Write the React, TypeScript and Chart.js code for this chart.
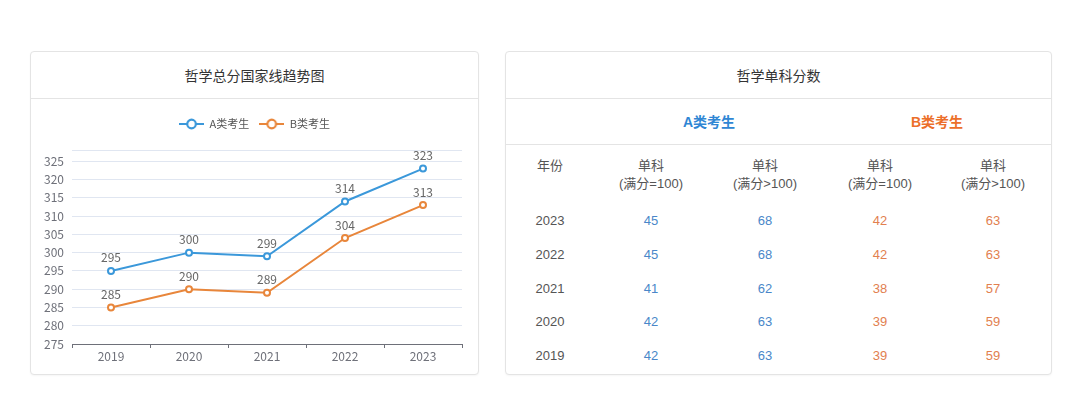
import React, { useEffect, useRef } from 'react';
import { Chart, registerables } from 'chart.js';

Chart.register(...registerables);

// ---- Line chart data ----
const years = ['2019', '2020', '2021', '2022', '2023'];
const seriesA = [295, 300, 299, 314, 323];
const seriesB = [285, 290, 289, 304, 313];
const yTickValues = [275, 280, 285, 290, 295, 300, 305, 310, 315, 320, 325];
const yMin = 275;
const yMax = 328;
const legendA = 'A类考生';
const legendB = 'B类考生';

// ---- Table data ----
const tableYears = ['2023', '2022', '2021', '2020', '2019'];
const aFull100 = [45, 45, 41, 42, 42];
const aOver100 = [68, 68, 62, 63, 63];
const bFull100 = [42, 42, 38, 39, 39];
const bOver100 = [63, 63, 57, 59, 59];
const tableHeaders = ['年份', '单科\n(满分=100)', '单科\n(满分>100)', '单科\n(满分=100)', '单科\n(满分>100)'];

const BLUE = '#3b98da';
const ORANGE = '#e8863b';
const FONT = '"Noto Sans CJK SC", "Noto Sans", sans-serif';

function makeIcon(color: string) {
  const c = document.createElement('canvas');
  c.width = 25;
  c.height = 14;
  const ctx = c.getContext('2d')!;
  ctx.strokeStyle = color;
  ctx.lineWidth = 2;
  ctx.beginPath();
  ctx.moveTo(0, 7);
  ctx.lineTo(25, 7);
  ctx.stroke();
  ctx.beginPath();
  ctx.arc(12.5, 7, 4.3, 0, Math.PI * 2);
  ctx.fillStyle = '#fff';
  ctx.fill();
  ctx.lineWidth = 2.2;
  ctx.stroke();
  return c;
}

const valueLabels = {
  id: 'valueLabels',
  afterDatasetsDraw(chart: any) {
    const ctx = chart.ctx;
    ctx.save();
    ctx.font = `12px ${FONT}`;
    ctx.fillStyle = '#666';
    ctx.textAlign = 'center';
    ctx.textBaseline = 'middle';
    chart.data.datasets.forEach((ds: any, i: number) => {
      const meta = chart.getDatasetMeta(i);
      meta.data.forEach((pt: any, j: number) => {
        ctx.fillText(String(ds.data[j]), pt.x, pt.y - 13);
      });
    });
    ctx.restore();
  },
};

function LineChart() {
  const ref = useRef<HTMLCanvasElement>(null);
  useEffect(() => {
    const icons = [makeIcon(BLUE), makeIcon(ORANGE)];
    const chart = new Chart(ref.current!, {
      type: 'line',
      data: {
        labels: years,
        datasets: [
          {
            label: legendA,
            data: seriesA,
            borderColor: BLUE,
            backgroundColor: '#fff',
            borderWidth: 2,
            pointRadius: 3,
            pointBorderWidth: 2,
            pointBackgroundColor: '#fff',
            pointBorderColor: BLUE,
            tension: 0,
            yAxisID: 'y',
          },
          {
            label: legendB,
            data: seriesB,
            borderColor: ORANGE,
            backgroundColor: '#fff',
            borderWidth: 2,
            pointRadius: 3,
            pointBorderWidth: 2,
            pointBackgroundColor: '#fff',
            pointBorderColor: ORANGE,
            tension: 0,
            yAxisID: 'y',
          },
        ],
      },
      options: {
        animation: false,
        responsive: false,
        maintainAspectRatio: false,
        layout: { padding: { top: 9.5, left: 0, right: 0, bottom: 11 } },
        plugins: {
          title: { display: true, text: '', font: { size: 9 }, padding: 0, weight: 100 } as any,
          tooltip: { enabled: false },
          legend: {
            position: 'top',
            labels: {
              usePointStyle: true,
              pointStyleWidth: 25,
              padding: 10,
              color: '#555',
              font: { size: 11, family: FONT },
              generateLabels: (c: any) => {
                const base = Chart.defaults.plugins.legend.labels.generateLabels(c);
                return base.map((l: any, i: number) => ({ ...l, pointStyle: icons[i] }));
              },
            },
          },
        },
        scales: {
          x: {
            type: 'category',
            offset: true,
            grid: { offset: true, drawOnChartArea: false, drawTicks: true, tickLength: 4, color: '#6E7079' },
            border: { color: '#6E7079', width: 1 },
            ticks: { color: '#6E7079', padding: 1, font: { size: 12, family: FONT } },
            afterFit: (s: any) => {
              s.height = 20;
            },
          },
          y: {
            position: 'left',
            min: yMin,
            max: yMax,
            grid: { color: '#E0E6F1', drawTicks: false },
            border: { display: false },
            afterBuildTicks: (s: any) => {
              s.ticks = [...yTickValues, yMax].map((v) => ({ value: v }));
            },
            ticks: {
              color: '#6E7079',
              padding: 8,
              font: { size: 12, family: FONT },
              callback: (v: any) => (yTickValues.includes(Number(v)) ? String(v) : ''),
            },
            afterFit: (s: any) => {
              s.width = 41;
            },
          },
          yRight: {
            axis: 'y',
            position: 'right',
            display: true,
            grid: { display: false, drawTicks: false },
            border: { display: false },
            ticks: { display: false },
            afterFit: (s: any) => {
              s.width = 16;
            },
          } as any,
        },
      },
      plugins: [valueLabels],
    });
    return () => chart.destroy();
  }, []);
  return <canvas ref={ref} width={447} height={276} style={{ display: 'block', width: 447, height: 276 }} />;
}

const cardStyle: React.CSSProperties = {
  position: 'absolute',
  top: 51,
  height: 324,
  boxSizing: 'border-box',
  border: '1px solid #e4e4e4',
  borderRadius: 4,
  background: '#fff',
  boxShadow: '0 1px 2px rgba(0,0,0,0.04)',
  fontFamily: FONT,
  overflow: 'hidden',
};

const headerStyle: React.CSSProperties = {
  height: 46,
  borderBottom: '1px solid #e4e4e4',
  display: 'flex',
  alignItems: 'center',
  justifyContent: 'center',
  fontSize: 14,
  color: '#333',
};

const colCenters = [44, 145, 259, 374, 487];
const groupCenters = [203, 431];
const rowCenters = [169, 203, 237, 270, 304];

function Cell(props: { cx: number; cy: number; color: string; text: string; size?: number; bold?: boolean; lh?: number }) {
  const lh = props.lh ?? 18;
  const lines = props.text.split('\n');
  const h = lh * lines.length;
  return (
    <div
      style={{
        position: 'absolute',
        left: props.cx - 60,
        width: 120,
        top: props.cy - h / 2,
        height: h,
        lineHeight: lh + 'px',
        textAlign: 'center',
        color: props.color,
        fontSize: props.size ?? 13,
        fontWeight: props.bold ? 'bold' : 'normal',
        fontFamily: '"Liberation Sans", Arial, "Noto Sans CJK SC", sans-serif',
        whiteSpace: 'pre',
      }}
    >
      {props.text}
    </div>
  );
}

function ScoreTable() {
  const cols = [tableYears, aFull100, aOver100, bFull100, bOver100];
  const colColors = ['#555', '#4a87c9', '#4a87c9', '#e2804f', '#e2804f'];
  return (
    <div style={{ ...cardStyle, left: 505, width: 547 }}>
      <div style={headerStyle}>哲学单科分数</div>
      <div style={{ position: 'absolute', left: 0, right: 0, top: 92, borderTop: '1px solid #e4e4e4' }} />
      <Cell cx={groupCenters[0]} cy={70} color="#2f86d4" text="A类考生" size={14} bold />
      <Cell cx={groupCenters[1]} cy={70} color="#ec6f2a" text="B类考生" size={14} bold />
      <Cell cx={colCenters[0]} cy={114} color="#555" text={tableHeaders[0]} />
      {tableHeaders.slice(1).map((t, i) => (
        <Cell key={'h' + i} cx={colCenters[i + 1]} cy={123} color="#555" text={t} />
      ))}
      {cols.map((col, ci) =>
        (col as (string | number)[]).map((v, ri) => (
          <Cell key={ci + '-' + ri} cx={colCenters[ci]} cy={rowCenters[ri]} color={colColors[ci]} text={String(v)} />
        ))
      )}
    </div>
  );
}

export default function App() {
  return (
    <div style={{ position: 'absolute', left: 0, top: 0, width: 1080, height: 393, background: '#fff', overflow: 'hidden' }}>
      <div style={{ ...cardStyle, left: 30, width: 449 }}>
        <div style={headerStyle}>哲学总分国家线趋势图</div>
        <LineChart />
      </div>
      <ScoreTable />
    </div>
  );
}
